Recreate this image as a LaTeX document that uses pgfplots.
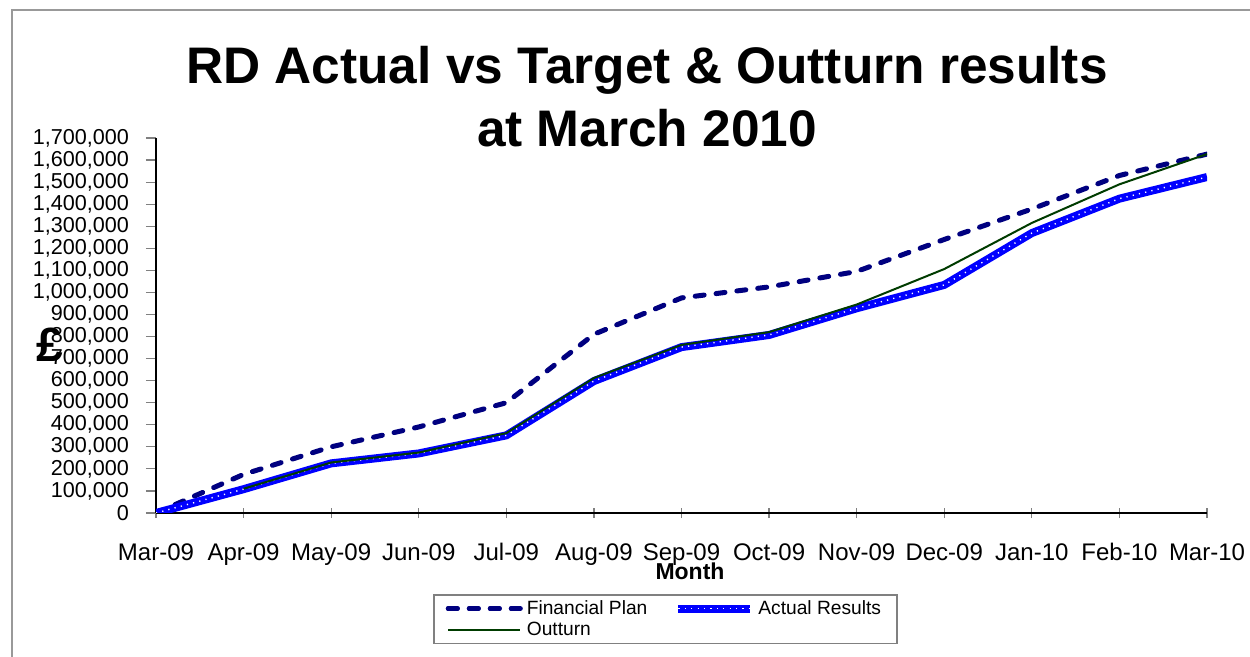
\documentclass[border=0pt]{standalone}
\usepackage{pgfplots}
\pgfplotsset{compat=1.18}
\usepackage{fontspec}
\setmainfont{Liberation Sans}
\definecolor{plannavy}{RGB}{0,0,128}
\definecolor{actblue}{RGB}{0,0,255}
\definecolor{outgreen}{RGB}{0,60,0}
\begin{document}
\begin{tikzpicture}
\useasboundingbox (0,0) rectangle (625bp,328.5bp);
\fill[white] (0,0) rectangle (625bp,328.5bp);
\draw[gray!80, line width=0.8bp] (6bp,0bp) -- (6bp,323.5bp) -- (625bp,323.5bp);
\begin{axis}[
  at={(78bp,72bp)}, anchor=south west,
  scale only axis, width=525.5bp, height=187.5bp,
  xmin=0, xmax=12, ymin=0, ymax=1700000,
  axis x line*=bottom, axis y line*=left,
  axis line style={black, line width=0.6bp, -},
  xtick={0,...,12},
  xticklabels={Mar-09,Apr-09,May-09,Jun-09,Jul-09,Aug-09,Sep-09,Oct-09,Nov-09,Dec-09,Jan-10,Feb-10,Mar-10},
  ytick={0,100000,...,1700000},
  scaled y ticks=false,
  /pgf/number format/.cd, fixed, 1000 sep={,}, assume math mode=true,
  /pgfplots/.cd,
  tick style={gray, line width=0.6bp},
  major tick length=5bp,
  xtick align=center, ytick align=outside,
  ticklabel style={font=\fontsize{10.8bp}{12bp}\selectfont},
  xticklabel style={font=\fontsize{12bp}{13bp}\selectfont, text height=8.6bp, text depth=2.5bp, yshift=-9bp},
  yticklabel style={xshift=-5bp},
  legend columns=2,
  legend cell align=left,
  legend style={at={(0.2636,-0.217)}, anchor=north west, draw=gray, line width=0.8bp,
    font=\fontsize{9.6bp}{10bp}\selectfont, inner xsep=6bp, inner ysep=0.5bp, row sep=-1.5bp,
    /tikz/every even column/.append style={column sep=11.5bp}},
  legend image code/.code={\draw[#1] (0bp,0bp) -- (35bp,0bp); \path (0bp,0bp) -- (36bp,0bp);},
]
\addplot[plannavy, line width=2.5bp, line cap=round, dash pattern=on 4.5bp off 6bp]
  coordinates {(0,0) (1,175000) (2,300000) (3,390000) (4,500000) (5,810000) (6,975000) (7,1025000) (8,1095000) (9,1240000) (10,1378000) (11,1530000) (12,1627000)};
\addlegendentry{Financial Plan}
\addplot[actblue, line width=4bp, postaction={draw=white, line width=0.7bp, dash pattern=on 0.6bp off 2.6bp}]
  coordinates {(0,0) (1,108000) (2,225000) (3,270000) (4,352000) (5,598000) (6,752000) (7,807000) (8,928000) (9,1034000) (10,1269000) (11,1425000) (12,1523000)};
\addlegendentry{Actual Results}
\addplot[outgreen, line width=1bp]
  coordinates {(1,110000) (2,229000) (3,274000) (4,362000) (5,612000) (6,762000) (7,820000) (8,945000) (9,1106000) (10,1315000) (11,1490000) (12,1627000)};
\addlegendentry{Outturn}
\end{axis}
\node[font=\fontsize{25.7bp}{31.5bp}\selectfont\bfseries, align=center] at (323.5bp,280.25bp) {RD Actual vs Target \& Outturn results\\at March 2010};
\node[font=\fontsize{11.5bp}{12bp}\selectfont\bfseries] at (345bp,43bp) {Month};
\node[font=\fontsize{24bp}{24bp}\selectfont\bfseries] at (25bp,156bp) {£};
\end{tikzpicture}
\end{document}
